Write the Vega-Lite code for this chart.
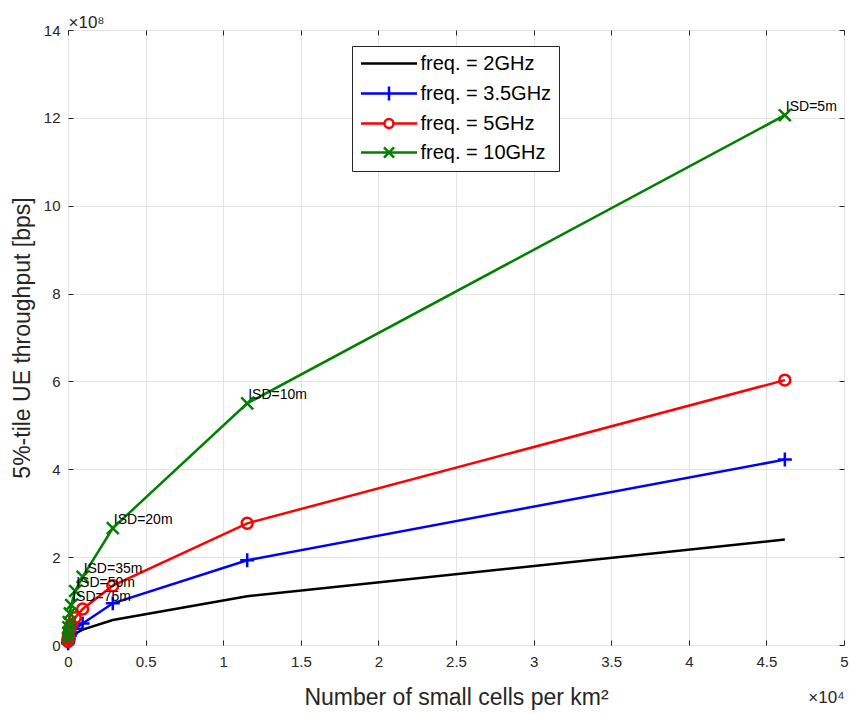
{
  "$schema": "https://vega.github.io/schema/vega-lite/v6.json",
  "width": 776,
  "height": 615,
  "autosize": {"type": "none"},
  "padding": {"left": 68, "top": 30, "right": 5, "bottom": 68},
  "background": "white",
  "config": {
    "font": "Liberation Sans",
    "view": {"stroke": "#262626", "strokeWidth": 1}
  },
  "data": {
    "values": [
      {"freq": "freq. = 2GHz", "isd": 5, "density": 46188, "tput": 240000000},
      {"freq": "freq. = 2GHz", "isd": 10, "density": 11547, "tput": 111000000},
      {"freq": "freq. = 2GHz", "isd": 20, "density": 2887, "tput": 57000000},
      {"freq": "freq. = 2GHz", "isd": 35, "density": 943, "tput": 35000000},
      {"freq": "freq. = 2GHz", "isd": 50, "density": 462, "tput": 26000000},
      {"freq": "freq. = 2GHz", "isd": 75, "density": 205, "tput": 19000000},
      {"freq": "freq. = 2GHz", "isd": 100, "density": 115, "tput": 15000000},
      {"freq": "freq. = 2GHz", "isd": 150, "density": 51, "tput": 10000000},
      {"freq": "freq. = 2GHz", "isd": 200, "density": 29, "tput": 8000000},
      {"freq": "freq. = 2GHz", "isd": 300, "density": 13, "tput": 5000000},
      {"freq": "freq. = 2GHz", "isd": 500, "density": 5, "tput": 3000000},
      {"freq": "freq. = 3.5GHz", "isd": 5, "density": 46188, "tput": 422000000},
      {"freq": "freq. = 3.5GHz", "isd": 10, "density": 11547, "tput": 193000000},
      {"freq": "freq. = 3.5GHz", "isd": 20, "density": 2887, "tput": 95000000},
      {"freq": "freq. = 3.5GHz", "isd": 35, "density": 943, "tput": 49000000},
      {"freq": "freq. = 3.5GHz", "isd": 50, "density": 462, "tput": 37000000},
      {"freq": "freq. = 3.5GHz", "isd": 75, "density": 205, "tput": 27000000},
      {"freq": "freq. = 3.5GHz", "isd": 100, "density": 115, "tput": 21000000},
      {"freq": "freq. = 3.5GHz", "isd": 150, "density": 51, "tput": 15000000},
      {"freq": "freq. = 3.5GHz", "isd": 200, "density": 29, "tput": 11000000},
      {"freq": "freq. = 3.5GHz", "isd": 300, "density": 13, "tput": 7000000},
      {"freq": "freq. = 3.5GHz", "isd": 500, "density": 5, "tput": 4000000},
      {"freq": "freq. = 5GHz", "isd": 5, "density": 46188, "tput": 603000000},
      {"freq": "freq. = 5GHz", "isd": 10, "density": 11547, "tput": 277000000},
      {"freq": "freq. = 5GHz", "isd": 20, "density": 2887, "tput": 135000000},
      {"freq": "freq. = 5GHz", "isd": 35, "density": 943, "tput": 82000000},
      {"freq": "freq. = 5GHz", "isd": 50, "density": 462, "tput": 62000000},
      {"freq": "freq. = 5GHz", "isd": 75, "density": 205, "tput": 46000000},
      {"freq": "freq. = 5GHz", "isd": 100, "density": 115, "tput": 36000000},
      {"freq": "freq. = 5GHz", "isd": 150, "density": 51, "tput": 26000000},
      {"freq": "freq. = 5GHz", "isd": 200, "density": 29, "tput": 20000000},
      {"freq": "freq. = 5GHz", "isd": 300, "density": 13, "tput": 14000000},
      {"freq": "freq. = 5GHz", "isd": 500, "density": 5, "tput": 8000000},
      {"freq": "freq. = 10GHz", "isd": 5, "density": 46188, "tput": 1206000000, "label": "ISD=5m"},
      {"freq": "freq. = 10GHz", "isd": 10, "density": 11547, "tput": 550000000, "label": "ISD=10m"},
      {"freq": "freq. = 10GHz", "isd": 20, "density": 2887, "tput": 266000000, "label": "ISD=20m"},
      {"freq": "freq. = 10GHz", "isd": 35, "density": 943, "tput": 155000000, "label": "ISD=35m"},
      {"freq": "freq. = 10GHz", "isd": 50, "density": 462, "tput": 123000000, "label": "ISD=50m"},
      {"freq": "freq. = 10GHz", "isd": 75, "density": 205, "tput": 91000000, "label": "ISD=75m"},
      {"freq": "freq. = 10GHz", "isd": 100, "density": 115, "tput": 72000000},
      {"freq": "freq. = 10GHz", "isd": 150, "density": 51, "tput": 52000000},
      {"freq": "freq. = 10GHz", "isd": 200, "density": 29, "tput": 40000000},
      {"freq": "freq. = 10GHz", "isd": 300, "density": 13, "tput": 27000000},
      {"freq": "freq. = 10GHz", "isd": 500, "density": 5, "tput": 15000000}
    ]
  },
  "layer": [
    {
      "mark": {"type": "line", "strokeWidth": 2.5},
      "encoding": {
        "x": {
          "field": "density", "type": "quantitative",
          "scale": {"domain": [0, 50000], "nice": false, "zero": true},
          "axis": {
            "orient": "bottom",
            "values": [0, 5000, 10000, 15000, 20000, 25000, 30000, 35000, 40000, 45000, 50000],
            "labelExpr": "'' + datum.value / 10000",
            "title": "Number of small cells per km²",
            "grid": true, "gridColor": "#e3e3e3", "gridWidth": 1,
            "ticks": false, "domain": false,
            "labelFontSize": 15, "labelColor": "#262626", "labelPadding": 9,
            "labelFlush": false, "labelOverlap": false,
            "titleFontSize": 23, "titleColor": "#262626", "titleFontWeight": "normal", "titlePadding": 17
          }
        },
        "y": {
          "field": "tput", "type": "quantitative",
          "scale": {"domain": [0, 1400000000], "nice": false, "zero": true},
          "axis": {
            "orient": "left",
            "values": [0, 200000000, 400000000, 600000000, 800000000, 1000000000, 1200000000, 1400000000],
            "labelExpr": "'' + datum.value / 100000000",
            "title": "5%-tile UE throughput [bps]",
            "grid": true, "gridColor": "#e3e3e3", "gridWidth": 1,
            "ticks": false, "domain": false,
            "labelFontSize": 15, "labelColor": "#262626", "labelPadding": 8,
            "labelFlush": false, "labelOverlap": false,
            "titleFontSize": 23, "titleColor": "#262626", "titleFontWeight": "normal", "titlePadding": 9
          }
        },
        "color": {
          "field": "freq", "type": "nominal",
          "scale": {"domain": ["freq. = 2GHz", "freq. = 3.5GHz", "freq. = 5GHz", "freq. = 10GHz"], "range": ["#000000", "#0000ff", "#ff0000", "#008000"]},
          "legend": {
            "title": null,
            "orient": "none",
            "legendX": 284,
            "legendY": 16,
            "direction": "vertical",
            "labelFontSize": 20,
            "labelColor": "#000000",
            "labelFont": "Liberation Sans",
            "labelOffset": 2,
            "labelLimit": 400,
            "symbolSize": 3136,
            "symbolStrokeWidth": 2.5,
            "rowPadding": 8,
            "padding": 7.5,
            "strokeColor": "#262626",
            "fillColor": "white",
            "cornerRadius": 0,
            "encode": {
              "symbols": {
                "update": {
                  "shape": {"signal": "datum.value === 'freq. = 2GHz' ? 'M-1,0L1,0' : datum.value === 'freq. = 3.5GHz' ? 'M-1,0L1,0M0,-0.25L0,0.25' : datum.value === 'freq. = 5GHz' ? 'M-1,0L-0.16,0M0.16,0L1,0M-0.16,0A0.16,0.16 0 1,0 0.16,0A0.16,0.16 0 1,0 -0.16,0' : 'M-1,0L1,0M-0.18,-0.18L0.18,0.18M-0.18,0.18L0.18,-0.18'"},
                  "size": {"value": 3136},
                  "strokeWidth": {"value": 2.5},
                  "fill": {"value": "transparent"},
                  "y": {"value": 10}
                }
              },
              "labels": {
                "update": {
                  "y": {"value": 10}
                }
              }
            }
          }
        },
        "order": {"field": "density", "type": "quantitative"}
      }
    },
    {
      "transform": [{"filter": "datum.freq === 'freq. = 3.5GHz'"}],
      "mark": {"type": "point", "filled": false, "strokeWidth": 2.5, "size": 196, "opacity": 1, "color": "#0000ff", "shape": "M-1,0L1,0M0,-1L0,1"},
      "encoding": {
        "x": {
          "field": "density", "type": "quantitative",
          "axis": {
            "orient": "top", "labels": false, "title": null, "grid": false, "domain": false,
            "ticks": true, "tickSize": -5, "tickColor": "#262626", "tickWidth": 1,
            "values": [0, 5000, 10000, 15000, 20000, 25000, 30000, 35000, 40000, 45000, 50000]
          }
        },
        "y": {
          "field": "tput", "type": "quantitative",
          "axis": {
            "orient": "right", "labels": false, "title": null, "grid": false, "domain": false,
            "ticks": true, "tickSize": -5, "tickColor": "#262626", "tickWidth": 1,
            "values": [0, 200000000, 400000000, 600000000, 800000000, 1000000000, 1200000000, 1400000000]
          }
        }
      }
    },
    {
      "transform": [{"filter": "datum.freq === 'freq. = 5GHz'"}],
      "mark": {"type": "point", "filled": false, "strokeWidth": 2.5, "size": 196, "opacity": 1, "color": "#ff0000", "shape": "M-0.78,0A0.78,0.78 0 1,0 0.78,0A0.78,0.78 0 1,0 -0.78,0"},
      "encoding": {
        "x": {"field": "density", "type": "quantitative", "axis": null},
        "y": {"field": "tput", "type": "quantitative", "axis": null}
      }
    },
    {
      "transform": [{"filter": "datum.freq === 'freq. = 10GHz'"}],
      "mark": {"type": "point", "filled": false, "strokeWidth": 2.5, "size": 196, "opacity": 1, "color": "#008000", "shape": "M-0.85,-0.85L0.85,0.85M-0.85,0.85L0.85,-0.85"},
      "encoding": {
        "x": {"field": "density", "type": "quantitative", "axis": null},
        "y": {"field": "tput", "type": "quantitative", "axis": null}
      }
    },
    {
      "transform": [{"filter": "datum.label != null"}],
      "mark": {"type": "text", "align": "left", "baseline": "middle", "dx": 1, "dy": -8, "fontSize": 14, "color": "#000000"},
      "encoding": {
        "x": {
          "field": "density", "type": "quantitative",
          "axis": {
            "orient": "bottom", "labels": false, "grid": false, "domain": false,
            "ticks": true, "tickSize": -5, "tickColor": "#262626", "tickWidth": 1,
            "values": [0, 5000, 10000, 15000, 20000, 25000, 30000, 35000, 40000, 45000, 50000],
            "title": "×10⁴", "titleX": 776, "titleY": 57, "titleAlign": "right", "titleBaseline": "alphabetic",
            "titleFontSize": 17, "titleFontWeight": "normal", "titleColor": "#262626", "titleAngle": 0
          }
        },
        "y": {
          "field": "tput", "type": "quantitative",
          "axis": {
            "orient": "left", "labels": false, "grid": false, "domain": false,
            "ticks": true, "tickSize": -5, "tickColor": "#262626", "tickWidth": 1,
            "values": [0, 200000000, 400000000, 600000000, 800000000, 1000000000, 1200000000, 1400000000],
            "title": "×10⁸", "titleX": 0, "titleY": -3, "titleAlign": "left", "titleBaseline": "alphabetic",
            "titleFontSize": 17, "titleFontWeight": "normal", "titleColor": "#262626", "titleAngle": 0
          }
        },
        "text": {"field": "label", "type": "nominal"}
      }
    }
  ],
  "resolve": {"axis": {"x": "independent", "y": "independent"}}
}
